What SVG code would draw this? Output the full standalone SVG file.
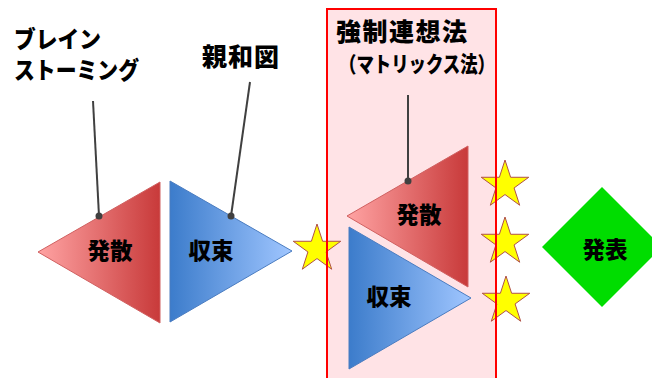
<svg xmlns="http://www.w3.org/2000/svg" xmlns:xlink="http://www.w3.org/1999/xlink" width="652" height="378" viewBox="0 0 652 378">
<style>
.t{font-family:"Noto Sans CJK JP","Noto Sans CJK SC",sans-serif;font-weight:900;fill:#000}
.lbl{font-size:23.5px}
.node{font-size:22.5px;text-anchor:middle}
.ln{stroke:#404040;stroke-width:2;fill:none}
.dot{fill:#404040}
.star{fill:#ffff00;stroke:#b0504a;stroke-width:1}
</style>
<defs>
<linearGradient id="gr" x1="0" y1="0" x2="1" y2="0">
<stop offset="0" stop-color="#ffa3a3"/>
<stop offset="1" stop-color="#c83a3a"/>
</linearGradient>
<linearGradient id="gb" x1="0" y1="0" x2="1" y2="0">
<stop offset="0" stop-color="#3c7ccb"/>
<stop offset="1" stop-color="#a0c6ff"/>
</linearGradient>
<polygon id="star" points="0,-25 5.61,-7.73 23.78,-7.73 9.08,2.95 14.69,20.23 0,9.55 -14.69,20.23 -9.08,2.95 -23.78,-7.73 -5.61,-7.73"/>
</defs>
<g id="frame-fill">
<rect x="327" y="9" width="169" height="380" fill="#ffe3e6"/>
</g>
<g id="brainstorm-label">
<text class="t lbl" x="14" y="48" textLength="87" lengthAdjust="spacingAndGlyphs">ブレイン</text>
<text class="t lbl" x="14" y="79" textLength="125" lengthAdjust="spacingAndGlyphs">ストーミング</text>
</g>
<g id="affinity-label">
<text class="t" font-size="25" x="202" y="66" textLength="77">親和図</text>
</g>
<g id="forced-label">
<text class="t" font-size="25" x="336" y="41" textLength="131">強制連想法</text>
<text class="t" font-size="21.5" x="339" y="72" textLength="156" lengthAdjust="spacingAndGlyphs">（マトリックス法）</text>
</g>
<g id="diverge1">
<polygon points="38,252 160,182 160,323" fill="url(#gr)" stroke="#d06060" stroke-width="1"/>
<text class="t node" x="110" y="259">発散</text>
</g>
<g id="converge1">
<polygon points="170,181 292,251 170,322" fill="url(#gb)" stroke="#4a7cc0" stroke-width="1"/>
<text class="t node" x="211" y="259">収束</text>
</g>
<g id="diverge2">
<polygon points="347,216 468,146 468,287" fill="url(#gr)" stroke="#d06060" stroke-width="1"/>
<text class="t node" x="419" y="223">発散</text>
</g>
<g id="converge2">
<polygon points="349,227 471,298 349,369" fill="url(#gb)" stroke="#4a7cc0" stroke-width="1"/>
<text class="t node" x="389" y="305">収束</text>
</g>
<g id="presentation">
<polygon points="542,247 602,187 662,247 602,307" fill="#00dd00"/>
<text class="t node" x="605" y="258">発表</text>
</g>
<g id="stars">
<use xlink:href="#star" class="star" x="317" y="249"/>
<use xlink:href="#star" class="star" x="505" y="185"/>
<use xlink:href="#star" class="star" x="505" y="242"/>
<use xlink:href="#star" class="star" x="506" y="301"/>
</g>
<g id="frame-border">
<rect x="327" y="9" width="169" height="380" fill="none" stroke="#ff0000" stroke-width="2"/>
</g>
<g id="connectors">
<line class="ln" x1="93" y1="101" x2="99" y2="216"/>
<circle class="dot" cx="99" cy="216" r="3.5"/>
<line class="ln" x1="250" y1="82" x2="231" y2="216"/>
<circle class="dot" cx="231" cy="216" r="3.5"/>
<line class="ln" x1="408" y1="95" x2="408" y2="181"/>
<circle class="dot" cx="408" cy="181" r="3.5"/>
</g>
</svg>
